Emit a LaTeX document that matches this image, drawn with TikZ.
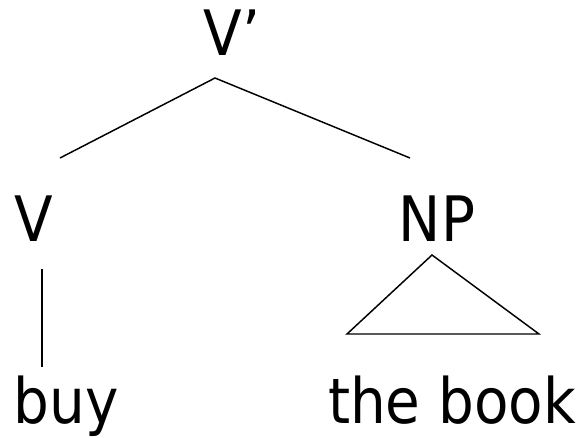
\documentclass[tikz,border=0pt]{standalone}
\usepackage{fontspec}
\setmainfont{DejaVu Sans Condensed}
\begin{document}
\begin{tikzpicture}[x=0.75pt,y=-0.75pt,
  lbl/.style={inner sep=0pt,anchor=base,font=\fontsize{47}{56}\selectfont},
  edge/.style={line width=1.1pt,line join=miter}]
\useasboundingbox (0,0) rectangle (581,437);
\node[lbl] (vbar) at (232,55) {V’};
\node[lbl] (v) at (34,241) {V};
\node[lbl] (np) at (437,241) {NP};
\node[lbl] (buy) at (66,423) {buy};
\node[lbl] (book) at (452,423) {the book};
\coordinate (vbarfoot) at (215,78);
\coordinate (vtop) at (60,158);
\coordinate (nptop) at (410,158);
\coordinate (vfoot) at (42,269);
\coordinate (buytop) at (42,367);
\coordinate (npfoot) at (432,255);
\coordinate (bl) at (347,334);
\coordinate (br) at (539,334);
\draw[edge] (vtop) -- (vbarfoot) -- (nptop);
\draw[edge] (vfoot) -- (buytop);
\draw[edge] (npfoot) -- (bl) -- (br) -- cycle;
\end{tikzpicture}
\end{document}
